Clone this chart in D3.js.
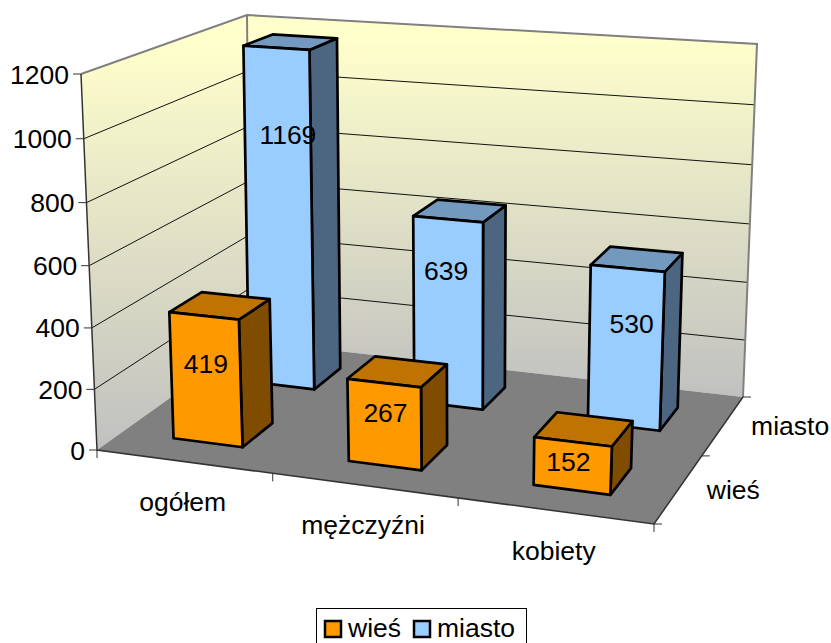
<!DOCTYPE html>
<html>
<head>
<meta charset="utf-8">
<script src="https://cdn.jsdelivr.net/npm/d3@7"></script>
<style>
  html, body { margin: 0; padding: 0; background: #fff; overflow: hidden; }
  text { font-family: "Liberation Sans", Arial, sans-serif; font-size: 26.5px; fill: #000; }
</style>
</head>
<body>
<svg id="chart" width="831" height="643"></svg>
<script>
var categories = ['ogółem', 'mężczyźni', 'kobiety'];
var seriesNames = ['wieś', 'miasto'];
var wies = [419, 267, 152];
var miasto = [1169, 639, 530];
var valueTicks = [0, 200, 400, 600, 800, 1000, 1200];

var colors = {
  'wieś': { front: '#ff9900', side: '#7f4c00', top: '#bf7300' },
  'miasto': { front: '#99ccff', side: '#4c6580', top: '#7399bf' }
};

// picture positions of the plot box corners, floor and ceiling
var floorQuad = [[97, 450], [654, 524], [743, 397], [250, 341]];
var ceilQuad = [[81, 74], [672, 117], [757, 44], [247, 15]];
var heightBend = 1.04;

var project = makeProjection(floorQuad, ceilQuad);

var xBand = d3.scaleBand().domain(categories).range([0, 1]).paddingInner(0.6).paddingOuter(0.3);
var yBand = d3.scaleBand().domain(seriesNames).range([0, 1]).paddingInner(0.6).paddingOuter(0.3);
var zScale = d3.scaleLinear().domain([0, 1200]).range([0, 1]);

var svg = d3.select('#chart');
var line = function (pts) { return 'M' + pts.map(function (p) { return p.join(','); }).join('L') + 'Z'; };
var open = function (pts) { return 'M' + pts.map(function (p) { return p.join(','); }).join('L'); };

// unit square to quad
function homography(q) {
  var x0 = q[0][0], y0 = q[0][1], x1 = q[1][0], y1 = q[1][1];
  var x2 = q[2][0], y2 = q[2][1], x3 = q[3][0], y3 = q[3][1];
  var sx = x0 - x1 + x2 - x3, sy = y0 - y1 + y2 - y3;
  var dx1 = x1 - x2, dx2 = x3 - x2, dy1 = y1 - y2, dy2 = y3 - y2;
  var den = dx1 * dy2 - dx2 * dy1;
  var g = (sx * dy2 - dx2 * sy) / den;
  var h = (dx1 * sy - sx * dy1) / den;
  var a = x1 - x0 + g * x1, b = x3 - x0 + h * x3;
  var d = y1 - y0 + g * y1, e = y3 - y0 + h * y3;
  return function (u, v) {
    var w = g * u + h * v + 1;
    return [(a * u + b * v + x0) / w, (d * u + e * v + y0) / w];
  };
}

function makeProjection(lower, upper) {
  var low = homography(lower), up = homography(upper);
  return function (u, v, w) {
    var p = low(u, v), q = up(u, v);
    var t = w / (w + (1 - w) * heightBend);
    return [p[0] + (q[0] - p[0]) * t, p[1] + (q[1] - p[1]) * t];
  };
}

// walls and floor
var defs = svg.append('defs');
var grad = defs.append('linearGradient').attr('id', 'wall')
  .attr('x1', 0).attr('y1', 0).attr('x2', 0).attr('y2', 1);
grad.append('stop').attr('offset', '6%').attr('stop-color', '#ffffcc');
grad.append('stop').attr('offset', '100%').attr('stop-color', '#c0c0c0');

svg.append('path').attr('fill', 'url(#wall)')
  .attr('d', line([project(0, 0, 0), project(0, 0, 1), project(0, 1, 1), project(0, 1, 0)]));
svg.append('path').attr('fill', 'url(#wall)')
  .attr('d', line([project(0, 1, 0), project(0, 1, 1), project(1, 1, 1), project(1, 1, 0)]));
svg.append('path').attr('fill', '#808080')
  .attr('d', line([project(0, 0, 0), project(1, 0, 0), project(1, 1, 0), project(0, 1, 0)]));

// gridlines
valueTicks.slice(1, -1).forEach(function (t) {
  svg.append('path').attr('fill', 'none').attr('stroke', '#111').attr('stroke-width', 1)
    .attr('d', open([project(0, 0, zScale(t)), project(0, 1, zScale(t)), project(1, 1, zScale(t))]));
});

// wall outline
svg.append('path').attr('fill', 'none').attr('stroke', '#808080').attr('stroke-width', 2)
  .attr('d', open([project(0, 0, 1), project(0, 1, 1), project(1, 1, 1), project(1, 1, 0)]));
svg.append('path').attr('fill', 'none').attr('stroke', '#808080').attr('stroke-width', 2)
  .attr('d', open([project(0, 1, 1), project(0, 1, 0)]));

// axes
svg.append('path').attr('fill', 'none').attr('stroke', '#333').attr('stroke-width', 1.5)
  .attr('d', open([project(0, 0, 1), project(0, 0, 0), project(1, 0, 0), project(1, 1, 0)]));

valueTicks.forEach(function (t) {
  var p = project(0, 0, zScale(t));
  svg.append('line').attr('stroke', '#333').attr('stroke-width', 1)
    .attr('x1', p[0] - 8).attr('x2', p[0]).attr('y1', p[1]).attr('y2', p[1]);
  svg.append('text').attr('x', p[0] - 12).attr('y', p[1]).attr('dy', '0.36em')
    .attr('text-anchor', 'end').text(t);
});

d3.range(categories.length + 1).forEach(function (i) {
  var p = project(i / categories.length, 0, 0);
  svg.append('line').attr('stroke', '#333').attr('stroke-width', 1)
    .attr('x1', p[0]).attr('x2', p[0]).attr('y1', p[1]).attr('y2', p[1] + 8);
});
d3.range(seriesNames.length + 1).forEach(function (i) {
  var p = project(1, i / seriesNames.length, 0);
  svg.append('line').attr('stroke', '#333').attr('stroke-width', 1)
    .attr('x1', p[0]).attr('x2', p[0] + 8).attr('y1', p[1]).attr('y2', p[1]);
});

categories.forEach(function (c) {
  var p = project(xBand(c) + xBand.bandwidth() / 2, 0, 0);
  svg.append('text').attr('x', p[0] - 1).attr('y', p[1] + 49).attr('text-anchor', 'middle').text(c);
});
seriesNames.forEach(function (s) {
  var p = project(1, yBand(s) + yBand.bandwidth() / 2, 0);
  svg.append('text').attr('x', p[0] + 28).attr('y', p[1] + 10).text(s);
});

// bars, the far series first
var seriesValues = { 'wieś': wies, 'miasto': miasto };
// nudges of the value labels away from the middle of the front face
var labelNudge = {
  'wieś': [[0, -16], [1, -12], [-4, -4]],
  'miasto': [[9, -85], [-2, -43], [6, -25]]
};

['miasto', 'wieś'].forEach(function (s) {
  categories.forEach(function (c, i) {
    var val = seriesValues[s][i];
    var x0 = xBand(c), x1 = x0 + xBand.bandwidth();
    var y0 = yBand(s), y1 = y0 + yBand.bandwidth();
    var z = zScale(val);
    var g = svg.append('g').attr('stroke', '#000').attr('stroke-width', 2.7).attr('stroke-linejoin', 'round');
    g.append('path').attr('fill', colors[s].side)
      .attr('d', line([project(x1, y0, 0), project(x1, y1, 0), project(x1, y1, z), project(x1, y0, z)]));
    g.append('path').attr('fill', colors[s].top)
      .attr('d', line([project(x0, y0, z), project(x1, y0, z), project(x1, y1, z), project(x0, y1, z)]));
    g.append('path').attr('fill', colors[s].front)
      .attr('d', line([project(x0, y0, 0), project(x1, y0, 0), project(x1, y0, z), project(x0, y0, z)]));
  });
});

// labels go on top of every bar
seriesNames.forEach(function (s) {
  categories.forEach(function (c, i) {
    var val = seriesValues[s][i];
    var x0 = xBand(c), xm = x0 + xBand.bandwidth() / 2;
    var y0 = yBand(s);
    var p = project(xm, y0, zScale(val) / 2);
    svg.append('text').attr('x', p[0] + labelNudge[s][i][0]).attr('y', p[1] + labelNudge[s][i][1])
      .attr('dy', '0.36em').attr('text-anchor', 'middle').text(val);
  });
});

// legend
svg.append('rect').attr('x', 316.5).attr('y', 608.5).attr('width', 210).attr('height', 50)
  .attr('fill', '#fff').attr('stroke', '#000').attr('stroke-width', 1);
var legendX = d3.scaleOrdinal().domain(seriesNames).range([325, 414]);
seriesNames.forEach(function (s) {
  svg.append('rect').attr('x', legendX(s)).attr('y', 621).attr('width', 16).attr('height', 16)
    .attr('fill', colors[s].front).attr('stroke', '#000').attr('stroke-width', 2.5);
  svg.append('text').attr('x', legendX(s) + 23).attr('y', 637).text(s);
});
</script>
</body>
</html>
